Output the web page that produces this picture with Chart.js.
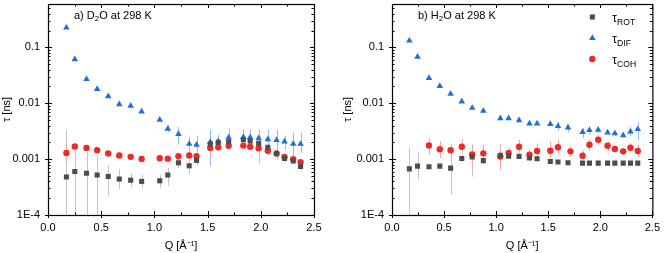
<!DOCTYPE html>
<html lang="en">
<head>
  <meta charset="UTF-8">
  <title>Relaxation times vs Q</title>
  <script src="https://cdn.jsdelivr.net/npm/chart.js"></script>
  <style>
    body {
      margin: 0;
      background: #fff;
    }
    .wrap {
      position: relative;
      width: 666px;
      height: 253px;
    }
    canvas {
      position: absolute;
      top: 0;
    }
    #chartA { left: 0; }
    #chartB { left: 333px; }
  </style>
</head>
<body>
  <div class="wrap">
    <canvas id="chartA" width="333" height="253"></canvas>
    <canvas id="chartB" width="333" height="253"></canvas>
  </div>

  <script>
    // axes
    const xTickValues = [0, 0.5, 1, 1.5, 2, 2.5];
    const yTickValues = [1e-4, 1e-3, 1e-2, 1e-1];
    const yTickLabels = ['1E-4', '0.001', '0.01', '0.1'];

    // panel a) D2O at 298 K
    const qA = [0.173, 0.252, 0.362, 0.462, 0.566, 0.670, 0.777, 0.880, 1.050, 1.126, 1.226, 1.327,
                1.396, 1.525, 1.600, 1.698, 1.836, 1.900, 1.980, 2.066, 2.148, 2.223, 2.305, 2.374];
    const rotA = [0.00048, 0.0006, 0.00056, 0.00052, 0.00049, 0.00044, 0.00042, 0.0004, 0.00041, 0.00052, 0.00086, 0.00076,
                  0.00095, 0.00187, 0.002, 0.00203, 0.00223, 0.0021, 0.00192, 0.00163, 0.00126, 0.00103, 0.00093, 0.00074];
    const rotALo = [5e-5, 5e-5, 5e-5, 5e-5, 0.00022, 0.00029, 0.00031, 0.0003, 0.00031, 0.00033, 0.0007, 0.00054,
                    0.00078, 0.0014, 0.0017, 0.0017, 0.002, 0.0018, 0.00083, 0.0013, 0.001, 0.00085, 0.0008, 0.00062];
    const rotAHi = [0.0033, 0.00143, 0.0013, 0.00113, 0.00078, 0.00066, 0.00055, 0.00053, 0.00053, 0.0007, 0.00105, 0.001,
                    0.0011, 0.0025, 0.0023, 0.0024, 0.0025, 0.0024, 0.0021, 0.0019, 0.0015, 0.0012, 0.0011, 0.00085];
    const difA = [0.226, 0.0612, 0.027, 0.018, 0.0133, 0.0096, 0.009, 0.0071, 0.00506, 0.0035, 0.00282, 0.00187,
                  0.0018, 0.00203, 0.00209, 0.00243, 0.00249, 0.00245, 0.00236, 0.00226, 0.0022, 0.00206, 0.00187, 0.00187];
    const difALo = [null, null, null, null, null, null, null, null, null, 0.003, 0.00182, 0.00128,
                    0.0013, 0.00075, 0.00159, 0.00182, 0.0021, 0.0018, 0.0018, 0.0013, 0.0014, 0.0015, 0.00105, 0.0013];
    const difAHi = [null, null, null, null, null, null, null, null, null, 0.0041, 0.00375, 0.00255,
                    0.0026, 0.0034, 0.00274, 0.0036, 0.0035, 0.0034, 0.0034, 0.0034, 0.0034, 0.0026, 0.003, 0.003];
    const cohA = [0.00129, 0.00168, 0.00159, 0.00145, 0.00126, 0.00116, 0.0011, 0.00101, 0.00104, 0.00102, 0.00113, 0.00116,
                  0.00113, 0.00159, 0.00163, 0.00173, 0.00175, 0.00166, 0.00157, 0.00141, 0.00126, 0.00109, 0.001, 0.000885];
    const cohALo = [0.00085, 0.0015, 0.0014, 0.0013, 0.00115, 0.00106, 0.001, 0.00093, 0.00096, 0.00094, 0.00104, 0.00106,
                    0.00104, 0.0012, 0.0015, 0.0016, 0.0016, 0.00152, 0.0012, 0.00118, 0.00098, 0.00095, 0.00088, 0.0008];
    const cohAHi = [0.0019, 0.0019, 0.0018, 0.0016, 0.0014, 0.00127, 0.0012, 0.0011, 0.00113, 0.00111, 0.00123, 0.00127,
                    0.00124, 0.0019, 0.00178, 0.0019, 0.0019, 0.0018, 0.0019, 0.0016, 0.00155, 0.00123, 0.00113, 0.00098];

    // panel b) H2O at 298 K
    const qB = [0.167, 0.245, 0.355, 0.459, 0.563, 0.670, 0.770, 0.877, 1.040, 1.120, 1.220, 1.320,
                1.393, 1.520, 1.594, 1.690, 1.830, 1.896, 1.980, 2.070, 2.140, 2.220, 2.290, 2.360];
    const rotB = [0.00067, 0.00075, 0.00073, 0.00075, 0.00069, 0.00103, 0.00109, 0.00094, 0.00117, 0.00113, 0.00112, 0.00105,
                  0.00102, 0.00091, 0.00089, 0.00086, 0.00085, 0.00085, 0.00085, 0.00085, 0.00085, 0.00085, 0.00085, 0.00085];
    const rotBLo = [5e-5, 0.00043, 0.00068, 0.0007, 0.00023, 0.00089, 0.00049, 0.0008, 0.0011, null, null, null,
                    null, null, null, null, null, null, null, null, null, null, null, null];
    const rotBHi = [0.00158, 0.00129, 0.00078, 0.0008, 0.00117, 0.0012, 0.00158, 0.0011, 0.00125, null, null, null,
                    null, null, null, null, null, null, null, null, null, null, null, null];
    const difB = [0.132, 0.0677, 0.0282, 0.0204, 0.0147, 0.0107, 0.00826, 0.0073, 0.0054, 0.0054, 0.00497, 0.00435,
                  0.00435, 0.00423, 0.00389, 0.00369, 0.00305, 0.0033, 0.00334, 0.003, 0.0029, 0.00266, 0.00313, 0.00344];
    const difBLo = [null, null, null, null, null, null, null, null, null, null, null, null,
                    null, null, 0.0032, 0.003, 0.0024, 0.0027, 0.0029, 0.0027, 0.0026, 0.0024, 0.0026, 0.0022];
    const difBHi = [null, null, null, null, null, null, null, null, null, null, null, null,
                    null, null, 0.0047, 0.0042, 0.0036, 0.0038, 0.0037, 0.0033, 0.0032, 0.0029, 0.0038, 0.0046];
    const qCohB = [0.355, 0.459, 0.563, 0.670, 0.770, 0.877, 1.040, 1.120, 1.220, 1.320, 1.393,
                   1.520, 1.594, 1.714, 1.830, 1.896, 1.980, 2.070, 2.140, 2.220, 2.290, 2.360];
    const cohB = [0.00176, 0.0015, 0.00144, 0.00167, 0.00122, 0.00127, 0.00111, 0.00129, 0.00167, 0.0012, 0.0014,
                  0.00141, 0.00163, 0.00138, 0.00115, 0.00181, 0.00222, 0.00174, 0.00152, 0.00138, 0.0016, 0.0014];
    const cohBLo = [0.0012, 0.00105, 0.00105, 0.00128, 0.00075, 0.00091, 0.00065, 0.00105, 0.00128, 0.00098, 0.0011,
                    0.00105, 0.0012, 0.0011, 0.00098, 0.0014, 0.0018, 0.0014, 0.0013, 0.0012, 0.0014, 0.0011];
    const cohBHi = [0.00238, 0.00208, 0.0019, 0.00222, 0.00182, 0.00182, 0.00182, 0.00158, 0.0022, 0.0015, 0.0019,
                    0.0021, 0.0022, 0.0017, 0.0014, 0.0022, 0.0027, 0.0021, 0.0017, 0.0016, 0.0019, 0.0018];

    const FONT = '"Liberation Sans", Arial, sans-serif';
    const GREY = '#4d4d4d', BLUE = '#1f6fdc', RED = '#f02828';

    const pts = (q, v) => q.map((x, i) => ({x: x, y: v[i]}));

    const rotSet = (q, v, lo, hi) => ({
      label: 'τROT', data: pts(q, v), errLo: lo, errHi: hi, errColor: '#c4c4c4',
      pointStyle: 'rect', pointRadius: 3.6, pointBackgroundColor: GREY, pointBorderWidth: 0
    });
    const difSet = (q, v, lo, hi) => ({
      label: 'τDIF', data: pts(q, v), errLo: lo, errHi: hi, errColor: '#93bdf0',
      pointStyle: 'triangle', pointRadius: 3.8, pointBackgroundColor: BLUE, pointBorderWidth: 0
    });
    const cohSet = (q, v, lo, hi) => ({
      label: 'τCOH', data: pts(q, v), errLo: lo, errHi: hi, errColor: '#f5a3a3',
      pointStyle: 'circle', pointRadius: 3.2, pointBackgroundColor: RED, pointBorderWidth: 0
    });

    function line(ctx, x1, y1, x2, y2) {
      ctx.beginPath();
      ctx.moveTo(x1, y1);
      ctx.lineTo(x2, y2);
      ctx.stroke();
    }

    // text with a subscript part: parts = [[text, isSub], ...]
    function subText(ctx, parts, x, y, size) {
      parts.forEach(p => {
        const s = p[1] ? size * 0.72 : size;
        ctx.font = s + 'px ' + FONT;
        ctx.fillText(p[0], x, p[1] ? y + size * 0.25 : y);
        x += ctx.measureText(p[0]).width;
      });
    }

    function framePlugin(title, legend) {
      return {
        id: 'frame',
        beforeDatasetsDraw(chart) {
          const {ctx, chartArea: a, scales: {x, y}} = chart;
          ctx.save();
          ctx.beginPath();
          ctx.rect(a.left, a.top, a.right - a.left, a.bottom - a.top);
          ctx.clip();
          ctx.lineWidth = 1;
          chart.data.datasets.forEach(ds => {
            ctx.strokeStyle = ds.errColor;
            ds.data.forEach((p, i) => {
              if (ds.errLo[i] == null) return;
              const px = Math.round(x.getPixelForValue(p.x)) + 0.5;
              line(ctx, px, y.getPixelForValue(ds.errLo[i]), px, y.getPixelForValue(ds.errHi[i]));
            });
          });
          ctx.restore();
        },
        afterDraw(chart) {
          const {ctx, chartArea: a, scales: {x, y}} = chart;
          ctx.save();
          ctx.strokeStyle = '#000';
          ctx.lineWidth = 1.2;
          ctx.strokeRect(a.left + 0.5, a.top + 0.5, a.right - a.left, a.bottom - a.top);
          ctx.lineWidth = 1;
          // x ticks, minor halfway between majors
          for (let k = 0; k < xTickValues.length; k++) {
            const px = Math.round(x.getPixelForValue(xTickValues[k])) + 0.5;
            line(ctx, px, a.bottom - 4, px, a.bottom + 3);
            line(ctx, px, a.top, px, a.top + 4);
            if (k < xTickValues.length - 1) {
              const pm = Math.round(x.getPixelForValue((xTickValues[k] + xTickValues[k + 1]) / 2)) + 0.5;
              line(ctx, pm, a.bottom - 2.5, pm, a.bottom);
              line(ctx, pm, a.top, pm, a.top + 2.5);
            }
          }
          // y ticks, log minors
          yTickValues.concat([1]).forEach(dec => {
            for (let m = 1; m <= 9; m++) {
              const v = m * dec;
              if (v < y.min || v > y.max) continue;
              const py = Math.round(y.getPixelForValue(v)) + 0.5;
              const major = m === 1;
              line(ctx, a.left - (major ? 3 : 0), py, a.left + (major ? 4 : 2.5), py);
              line(ctx, a.right - (major ? 4 : 2.5), py, a.right + 1, py);
            }
          });
          // panel label
          ctx.fillStyle = '#000';
          ctx.textBaseline = 'alphabetic';
          subText(ctx, title, a.left + 26, 18.5, 11);
          // legend
          if (legend) {
            const lx = a.right - 60;
            chart.data.datasets.forEach((ds, i) => {
              const ly = 17 + i * 21;
              ctx.fillStyle = ds.pointBackgroundColor;
              Chart.helpers.drawPoint(ctx, {
                pointStyle: ds.pointStyle, radius: ds.pointRadius, rotation: 0, borderWidth: 0
              }, lx, ly);
              ctx.fillStyle = '#000';
              subText(ctx, [['τ', false], [ds.label.slice(1), true]], lx + 20, ly + 5, 12);
            });
          }
          ctx.restore();
        }
      };
    }

    function makeChart(id, datasets, padLeft, padRight, yWidth, title, legend) {
      const font = {family: FONT, size: 11};
      return new Chart(document.getElementById(id), {
        type: 'scatter',
        data: {datasets: datasets},
        options: {
          responsive: false,
          animation: false,
          events: [],
          devicePixelRatio: 1,
          layout: {padding: {left: padLeft, right: padRight, top: 1, bottom: 0}},
          plugins: {legend: {display: false}, tooltip: {enabled: false}},
          scales: {
            x: {
              type: 'linear', min: 0, max: 2.5,
              afterBuildTicks: s => { s.ticks = xTickValues.map(v => ({value: v})); },
              afterFit: s => { s.height = 38; },
              grid: {display: false, drawTicks: false},
              border: {display: false},
              ticks: {autoSkip: false, maxRotation: 0, padding: 6, color: '#000', font: font,
                      callback: v => v.toFixed(1)},
              title: {display: true, text: 'Q [Å⁻¹]', color: '#000', font: font, padding: 0}
            },
            y: {
              type: 'logarithmic', min: 1e-4, max: 0.6,
              afterBuildTicks: s => { s.ticks = yTickValues.map(v => ({value: v})); },
              afterFit: s => { s.width = yWidth; s.paddingTop = 0; s.paddingBottom = 0; },
              grid: {display: false, drawTicks: false},
              border: {display: false},
              ticks: {autoSkip: false, padding: 8, color: '#000', font: font,
                      callback: (v, i) => yTickLabels[i]},
              title: {display: true, text: 'τ [ns]', color: '#000', font: font, padding: 0}
            }
          }
        },
        plugins: [framePlugin(title, legend)]
      });
    }

    makeChart('chartA', [
      rotSet(qA, rotA, rotALo, rotAHi),
      difSet(qA, difA, difALo, difAHi),
      cohSet(qA, cohA, cohALo, cohAHi)
    ], 0, 19, 48, [['a) D', false], ['2', true], ['O at 298 K', false]], false);

    makeChart('chartB', [
      rotSet(qB, rotB, rotBLo, rotBHi),
      difSet(qB, difB, difBLo, difBHi),
      cohSet(qCohB, cohB, cohBLo, cohBHi)
    ], 8, 8, 51, [['b) H', false], ['2', true], ['O at 298 K', false]], true);
  </script>
</body>
</html>
